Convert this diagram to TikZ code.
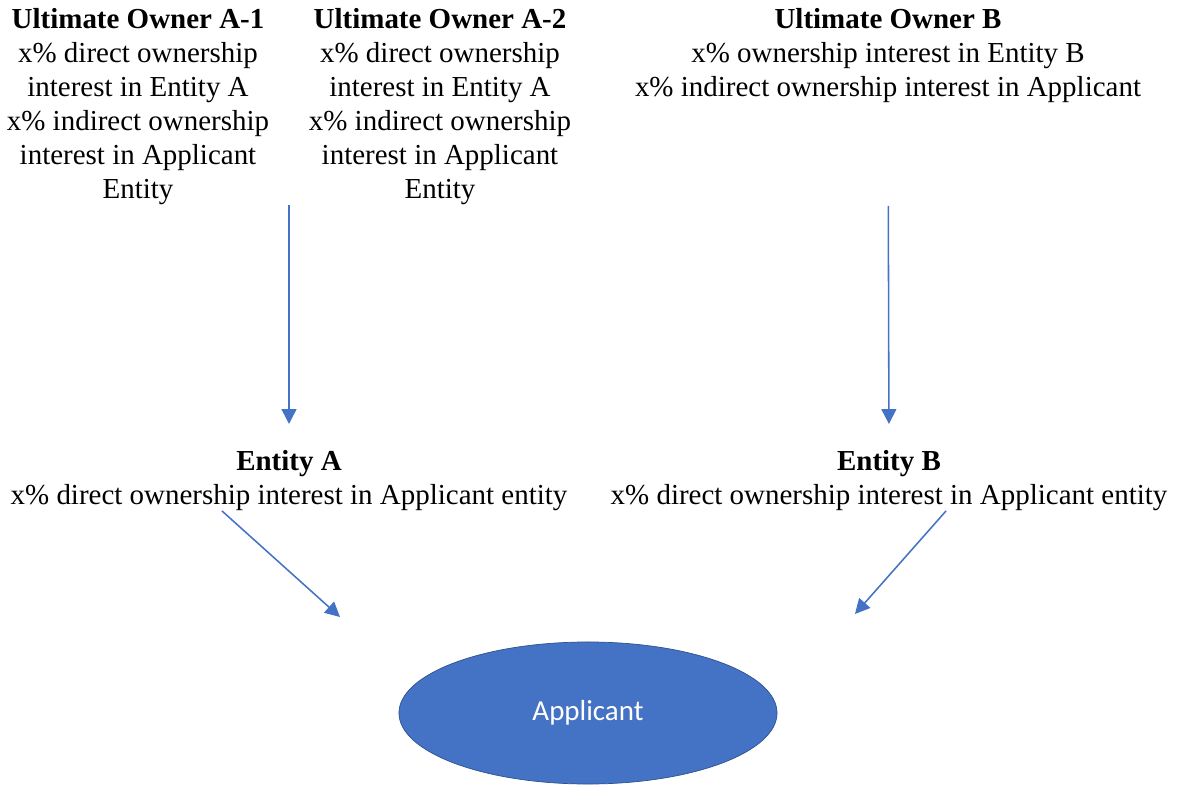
\documentclass[tikz,border=0pt]{standalone}
\usepackage{fontspec}
\setmainfont{Liberation Serif}
\newfontfamily\calibri{Carlito}
\usetikzlibrary{shapes.geometric,arrows.meta,calc}
\definecolor{appblue}{RGB}{68,114,196}
\definecolor{appedge}{RGB}{47,82,143}
\begin{document}
\begin{tikzpicture}
  [x=0.025cm,y=-0.025cm,
   owner/.style={align=center,inner sep=0pt,anchor=north,
     font=\fontsize{20.6}{24.2}\selectfont},
   link/.style={draw=appblue,line width=1.1pt,
     -{Triangle[length=0.37cm,width=0.37cm]}},
   appl/.style={ellipse,fill=appblue,draw=appedge,line width=0.5pt,
     minimum width=9.45cm,minimum height=3.55cm,text=white,
     font=\calibri\fontsize{20.6}{24.2}\selectfont}]
  \useasboundingbox (0,0) rectangle (1178,807);

  \node[owner] (ownA1) at (138,8) {\textbf{Ultimate Owner A-1}\\x\% direct ownership\\interest in Entity A\\x\% indirect ownership\\interest in Applicant\\Entity};
  \node[owner] (ownA2) at (440,8) {\textbf{Ultimate Owner A-2}\\x\% direct ownership\\interest in Entity A\\x\% indirect ownership\\interest in Applicant\\Entity};
  \node[owner] (ownB) at (888,8) {\textbf{Ultimate Owner B}\\x\% ownership interest in Entity B\\x\% indirect ownership interest in Applicant};
  \node[owner] (entA) at (289,450) {\textbf{Entity A}\\x\% direct ownership interest in Applicant entity};
  \node[owner] (entB) at (889,450) {\textbf{Entity B}\\x\% direct ownership interest in Applicant entity};
  \node[appl] (app) at (588,713) {Applicant};

  \coordinate (ownA) at ($(ownA1.south)!.5!(ownA2.south)$);
  \coordinate (inA) at (340,617);
  \coordinate (inB) at (855,614);

  \draw[link,shorten >=0.65cm] (ownA) -- (ownA |- entA.north);
  \draw[link,shorten <=2.575cm,shorten >=0.65cm] (ownB.south) -- (entB.north);
  \draw[link] ([xshift=-1.675cm]entA.south) -- (inA);
  \draw[link] ([xshift=1.425cm]entB.south) -- (inB);

\end{tikzpicture}
\end{document}
